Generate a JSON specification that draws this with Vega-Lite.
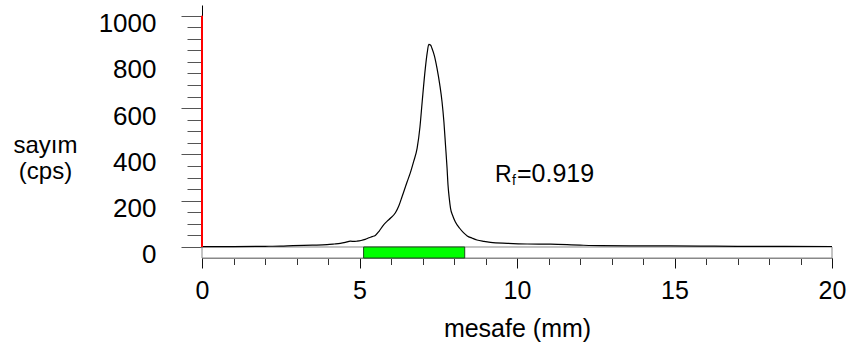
{
  "$schema": "https://vega.github.io/schema/vega-lite/v6.json",
  "width": 630,
  "height": 253,
  "autosize": {"type": "none"},
  "padding": {"left": 202, "top": 5, "right": 20, "bottom": 96},
  "background": "white",
  "config": {"view": {"stroke": null}, "font": "Liberation Sans"},
  "datasets": {
    "curve": [
      {"x": 0, "y": 2}, {"x": 1, "y": 2}, {"x": 2, "y": 3}, {"x": 2.5, "y": 4}, {"x": 2.89, "y": 6},
      {"x": 3.5, "y": 8}, {"x": 3.97, "y": 10}, {"x": 4.2, "y": 13}, {"x": 4.39, "y": 16}, {"x": 4.55, "y": 20},
      {"x": 4.71, "y": 25}, {"x": 4.85, "y": 24}, {"x": 4.92, "y": 25}, {"x": 5.05, "y": 28}, {"x": 5.18, "y": 33},
      {"x": 5.3, "y": 40}, {"x": 5.4, "y": 45}, {"x": 5.5, "y": 50}, {"x": 5.62, "y": 68}, {"x": 5.76, "y": 95},
      {"x": 5.88, "y": 112}, {"x": 5.98, "y": 124}, {"x": 6.14, "y": 148}, {"x": 6.25, "y": 178}, {"x": 6.35, "y": 217},
      {"x": 6.51, "y": 281}, {"x": 6.61, "y": 319}, {"x": 6.72, "y": 370}, {"x": 6.83, "y": 427}, {"x": 6.92, "y": 520},
      {"x": 6.99, "y": 628}, {"x": 7.09, "y": 773}, {"x": 7.15, "y": 840}, {"x": 7.2, "y": 876}, {"x": 7.26, "y": 872},
      {"x": 7.3, "y": 859}, {"x": 7.38, "y": 825}, {"x": 7.46, "y": 773}, {"x": 7.55, "y": 700}, {"x": 7.62, "y": 628},
      {"x": 7.68, "y": 540}, {"x": 7.73, "y": 441}, {"x": 7.78, "y": 340}, {"x": 7.81, "y": 268}, {"x": 7.85, "y": 210},
      {"x": 7.89, "y": 167}, {"x": 7.96, "y": 135}, {"x": 8.04, "y": 109}, {"x": 8.18, "y": 81}, {"x": 8.3, "y": 62},
      {"x": 8.42, "y": 48}, {"x": 8.58, "y": 38}, {"x": 8.73, "y": 30}, {"x": 8.95, "y": 24}, {"x": 9.16, "y": 20},
      {"x": 9.69, "y": 16}, {"x": 10.32, "y": 13}, {"x": 11.07, "y": 12}, {"x": 12, "y": 8}, {"x": 12.66, "y": 6},
      {"x": 14, "y": 5}, {"x": 15.83, "y": 4}, {"x": 17, "y": 3}, {"x": 18.5, "y": 3}, {"x": 20, "y": 2}
    ],
    "strip": [{"x": 0, "x2": 20, "y": -47.6, "y2": 0}],
    "band": [{"x": 5.13, "x2": 8.34, "y": -47.6, "y2": 0}],
    "marker": [{"x": 0, "y": 0, "y2": 1000}],
    "labels": [
      {"part": "R", "x": 9.3, "y": 282},
      {"part": "f", "x": 9.84, "y": 268},
      {"part": "=0.919", "x": 10.0, "y": 282}
    ]
  },
  "layer": [
    {
      "data": {"name": "strip"},
      "mark": {"type": "rect", "fill": "white", "stroke": "#888888", "strokeWidth": 1},
      "encoding": {
        "x": {"field": "x", "type": "quantitative", "scale": {"domain": [0, 20], "nice": false, "zero": false},
          "axis": {"orient": "bottom", "values": [0,1,2,3,4,5,6,7,8,9,10,11,12,13,14,15,16,17,18,19,20], "labels": false, "title": null, "grid": false,
            "tickSize": 6.5, "tickColor": "#333333", "tickWidth": 1, "domain": true, "domainColor": "#888888", "domainWidth": 1}},
        "x2": {"field": "x2"},
        "y": {"field": "y", "type": "quantitative", "scale": {"domain": [-47.6, 1046], "nice": false, "zero": false},
          "axis": {"orient": "left", "values": [0,50,100,150,200,250,300,350,400,450,500,550,600,650,700,750,800,850,900,950,1000], "labels": false, "title": null, "grid": false,
            "tickSize": 15, "tickColor": "#555555", "tickWidth": 1, "domain": false}},
        "y2": {"field": "y2"}
      }
    },
    {
      "data": {"name": "band"},
      "mark": {"type": "rect", "fill": "#00ff00", "stroke": "#1a4d1a", "strokeWidth": 1},
      "encoding": {
        "x": {"field": "x", "type": "quantitative", "scale": {"domain": [0, 20], "nice": false, "zero": false}, "axis": null},
        "x2": {"field": "x2"},
        "y": {"field": "y", "type": "quantitative", "scale": {"domain": [-47.6, 1046], "nice": false, "zero": false}, "axis": null},
        "y2": {"field": "y2"}
      }
    },
    {
      "data": {"name": "curve"},
      "mark": {"type": "line", "color": "black", "strokeWidth": 1.2, "interpolate": "monotone"},
      "encoding": {
        "x": {"field": "x", "type": "quantitative", "scale": {"domain": [0, 20], "nice": false, "zero": false},
          "axis": {"orient": "bottom", "values": [0, 5, 10, 15, 20], "format": "d", "grid": false, "domain": false,
            "tickSize": 10, "tickColor": "#111111", "tickWidth": 1,
            "labelFont": "Liberation Sans", "labelFontSize": 25, "labelColor": "black", "labelPadding": 10, "labelFlush": false,
            "title": "mesafe (mm)", "titleFont": "Liberation Sans", "titleFontSize": 25, "titleFontWeight": "normal", "titleColor": "black",
            "titleBaseline": "middle", "titleY": 70}},
        "y": {"field": "y", "type": "quantitative", "scale": {"domain": [-47.6, 1046], "nice": false, "zero": false},
          "axis": {"orient": "left", "values": [0, 200, 400, 600, 800, 1000], "format": "d", "grid": false,
            "domain": true, "domainColor": "black", "domainWidth": 1,
            "tickSize": 21, "tickWidth": 1,
            "tickColor": {"condition": {"test": "datum.value === 800", "value": "transparent"}, "value": "#555555"},
            "labelFont": "Liberation Sans", "labelFontSize": 26, "labelColor": "black", "labelPadding": 25, "labelOffset": 8, "labelFlush": false,
            "title": ["sayım", "(cps)"], "titleFont": "Liberation Sans", "titleFontSize": 24, "titleFontWeight": "normal", "titleColor": "black",
            "titleAngle": 0, "titleAlign": "center", "titleBaseline": "middle", "titleLineHeight": 26, "titleX": -157, "titleY": 140}}
      }
    },
    {
      "data": {"name": "marker"},
      "mark": {"type": "rule", "color": "#ff0000", "strokeWidth": 2},
      "encoding": {
        "x": {"field": "x", "type": "quantitative", "scale": {"domain": [0, 20], "nice": false, "zero": false}, "axis": null},
        "y": {"field": "y", "type": "quantitative", "scale": {"domain": [-47.6, 1046], "nice": false, "zero": false}, "axis": null},
        "y2": {"field": "y2"}
      }
    },
    {
      "data": {"name": "labels"},
      "transform": [{"filter": "datum.part === 'R'"}],
      "mark": {"type": "text", "align": "left", "baseline": "alphabetic", "fontSize": 23, "font": "Liberation Sans", "color": "black"},
      "encoding": {
        "x": {"field": "x", "type": "quantitative", "scale": {"domain": [0, 20], "nice": false, "zero": false}, "axis": null},
        "y": {"field": "y", "type": "quantitative", "scale": {"domain": [-47.6, 1046], "nice": false, "zero": false}, "axis": null},
        "text": {"field": "part"}
      }
    },
    {
      "data": {"name": "labels"},
      "transform": [{"filter": "datum.part === 'f'"}],
      "mark": {"type": "text", "align": "left", "baseline": "alphabetic", "fontSize": 14, "font": "Liberation Sans", "color": "black"},
      "encoding": {
        "x": {"field": "x", "type": "quantitative", "scale": {"domain": [0, 20], "nice": false, "zero": false}, "axis": null},
        "y": {"field": "y", "type": "quantitative", "scale": {"domain": [-47.6, 1046], "nice": false, "zero": false}, "axis": null},
        "text": {"field": "part"}
      }
    },
    {
      "data": {"name": "labels"},
      "transform": [{"filter": "datum.part === '=0.919'"}],
      "mark": {"type": "text", "align": "left", "baseline": "alphabetic", "fontSize": 25, "font": "Liberation Sans", "color": "black"},
      "encoding": {
        "x": {"field": "x", "type": "quantitative", "scale": {"domain": [0, 20], "nice": false, "zero": false}, "axis": null},
        "y": {"field": "y", "type": "quantitative", "scale": {"domain": [-47.6, 1046], "nice": false, "zero": false}, "axis": null},
        "text": {"field": "part"}
      }
    }
  ],
  "resolve": {"axis": {"x": "independent", "y": "independent"}}
}
